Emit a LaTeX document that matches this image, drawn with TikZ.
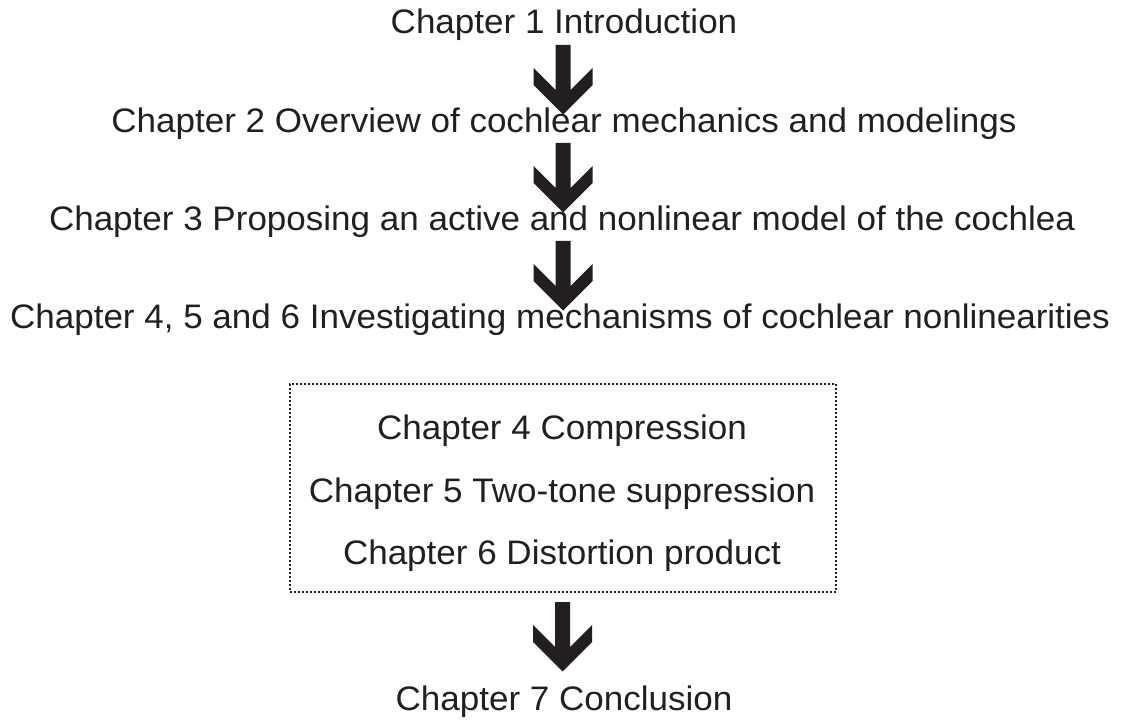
\documentclass[tikz,border=0pt]{standalone}
\usepackage{fontspec}
\setmainfont{Liberation Sans}[FakeStretch=1.03]
\usepackage{tikz}
\usetikzlibrary{positioning}

\definecolor{ink}{HTML}{231F20}

\tikzset{
  chapter/.style={inner sep=0pt, text=ink, font=\fontsize{34}{40}\selectfont},
  partbox/.style={draw=ink, line width=1.8pt, dash pattern=on 2pt off 2pt,
    minimum width=546pt, minimum height=208pt, inner sep=0pt},
  bigarrow/.pic={
    \fill[ink] (-7.5,0) -- (7.5,0) -- (7.5,45) -- (29.5,23) -- (29.5,40)
      -- (0,69.5) -- (-29.5,40) -- (-29.5,23) -- (-7.5,45) -- cycle;
  }
}

\begin{document}
\begin{tikzpicture}[x=1pt, y=-1pt]
  \useasboundingbox (0,0) rectangle (1122,722);

  % Chapters
  \node[chapter] (ch1) at (564,25) {Chapter 1 Introduction};
  \node[chapter] (ch2) at (564,124) {Chapter 2 Overview of cochlear mechanics and modelings};
  \node[chapter] (ch3) at (562,222) {Chapter 3 Proposing an active and nonlinear model of the cochlea};
  \node[chapter] (ch456) at (560,320) {Chapter 4, 5 and 6 Investigating mechanisms of cochlear nonlinearities};

  % Dotted box with the three chapters
  \node[partbox] (part) at (563,488) {};
  \node[chapter] (ch4) at (562,431) {Chapter 4 Compression};
  \node[chapter] (ch5) at (562,494) {Chapter 5 Two-tone suppression};
  \node[chapter] (ch6) at (562,556) {Chapter 6 Distortion product};

  \node[chapter] (ch7) at (564,702) {Chapter 7 Conclusion};

  % Arrows
  \pic at (563,45) {bigarrow};
  \pic at (563,143) {bigarrow};
  \pic at (563,241) {bigarrow};
  \pic at (562.5,602) {bigarrow};
\end{tikzpicture}
\end{document}
